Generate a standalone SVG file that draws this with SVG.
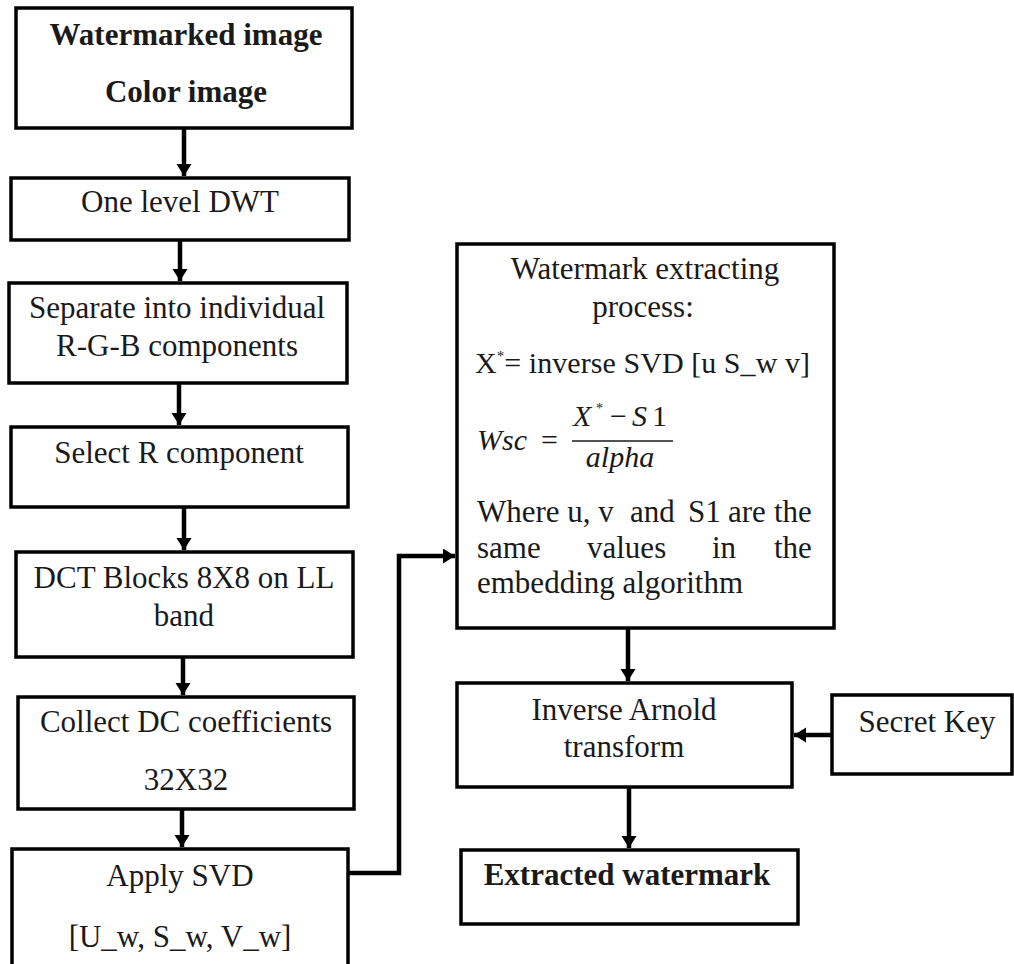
<svg xmlns="http://www.w3.org/2000/svg" width="1014" height="964" viewBox="0 0 1014 964">
<style>
.box{fill:#fff;stroke:#000;stroke-width:3.5}
text{font-family:'Liberation Serif','Times New Roman',Tinos,'DejaVu Serif',serif;fill:#1a1a1a}
.t{font-size:31px;text-anchor:middle}
.tl{font-size:31px}
.b{font-weight:bold}
.m{font-size:30px;font-style:italic}
.n{font-size:30px;font-style:normal}
.c{fill:none;stroke:#000;stroke-width:4.5}
</style>
<defs>
<marker id="ah" markerUnits="userSpaceOnUse" markerWidth="16" markerHeight="16" refX="12" refY="7.5" orient="auto">
<path d="M0,0 L12,7.5 L0,15 z" fill="#000"/>
</marker>
</defs>
<rect width="1014" height="964" fill="#fff"/>
<g id="connectors">
<line class="c" x1="184" y1="128" x2="184" y2="176" marker-end="url(#ah)"/>
<line class="c" x1="180" y1="240" x2="180" y2="281" marker-end="url(#ah)"/>
<line class="c" x1="179" y1="383" x2="179" y2="425" marker-end="url(#ah)"/>
<line class="c" x1="184" y1="507" x2="184" y2="550" marker-end="url(#ah)"/>
<line class="c" x1="183" y1="657" x2="183" y2="695" marker-end="url(#ah)"/>
<line class="c" x1="182" y1="809" x2="182" y2="847" marker-end="url(#ah)"/>
<path class="c" d="M348,873 H399 V556 H455" marker-end="url(#ah)"/>
<line class="c" x1="628" y1="628" x2="628" y2="681" marker-end="url(#ah)"/>
<line class="c" x1="629" y1="787" x2="629" y2="848" marker-end="url(#ah)"/>
<line class="c" x1="832" y1="735" x2="794" y2="735" marker-end="url(#ah)"/>
</g>
<g id="n1">
<rect class="box" x="16" y="8" width="336" height="120"/>
<text class="t b" x="186" y="45">Watermarked image</text>
<text class="t b" x="186" y="102">Color image</text>
</g>
<g id="n2">
<rect class="box" x="11" y="178" width="338" height="62"/>
<text class="t" x="180" y="212">One level DWT</text>
</g>
<g id="n3">
<rect class="box" x="9" y="283" width="338" height="100"/>
<text class="t" x="177" y="318">Separate into individual</text>
<text class="t" x="177" y="356">R-G-B components</text>
</g>
<g id="n4">
<rect class="box" x="11" y="427" width="337" height="80"/>
<text class="t" x="179" y="463">Select R component</text>
</g>
<g id="n5">
<rect class="box" x="16" y="552" width="337" height="105"/>
<text class="t" x="184" y="588">DCT Blocks 8X8 on LL</text>
<text class="t" x="184" y="626">band</text>
</g>
<g id="n6">
<rect class="box" x="18" y="697" width="336" height="112"/>
<text class="t" x="186" y="732">Collect DC coefficients</text>
<text class="t" x="186" y="790">32X32</text>
</g>
<g id="n7">
<rect class="box" x="12" y="849" width="336" height="130"/>
<text class="t" x="180" y="886">Apply SVD</text>
<text class="t" x="180" y="947">[U_w, S_w, V_w]</text>
</g>
<g id="n8">
<rect class="box" x="457" y="244" width="377" height="384"/>
<text class="t" x="645" y="279">Watermark extracting</text>
<text class="t" x="643" y="317">process:</text>
<text class="tl" x="475" y="373" style="font-size:30px" textLength="335" lengthAdjust="spacing">X<tspan style="font-size:15px" dy="-12">*</tspan><tspan dy="12">= inverse SVD [u S_w v]</tspan></text>
<text class="m" x="477" y="450">Wsc</text>
<text class="n" x="541" y="450">=</text>
<text class="m" x="573" y="426">X</text>
<text class="n" x="596" y="413" style="font-size:14px">*</text>
<text class="n" x="610" y="426">−</text>
<text class="m" x="632" y="426">S</text>
<text class="n" x="652" y="426">1</text>
<line x1="572" y1="441" x2="673" y2="441" stroke="#1a1a1a" stroke-width="1.5"/>
<text class="m" x="620" y="467" text-anchor="middle">alpha</text>
<text class="tl" y="522"><tspan x="477">Where u, v</tspan><tspan x="630">and</tspan><tspan x="688">S1</tspan><tspan x="728">are</tspan><tspan x="774">the</tspan></text>
<text class="tl" y="558"><tspan x="477">same</tspan><tspan x="587">values</tspan><tspan x="712">in</tspan><tspan x="774">the</tspan></text>
<text class="tl" x="477" y="593">embedding algorithm</text>
</g>
<g id="n9">
<rect class="box" x="457" y="683" width="335" height="104"/>
<text class="t" x="624" y="720">Inverse Arnold</text>
<text class="t" x="624" y="757">transform</text>
</g>
<g id="n10">
<rect class="box" x="832" y="695" width="180" height="79"/>
<text class="t" x="927" y="732">Secret Key</text>
</g>
<g id="n11">
<rect class="box" x="461" y="850" width="337" height="74"/>
<text class="t b" x="627" y="885">Extracted watermark</text>
</g>
</svg>
